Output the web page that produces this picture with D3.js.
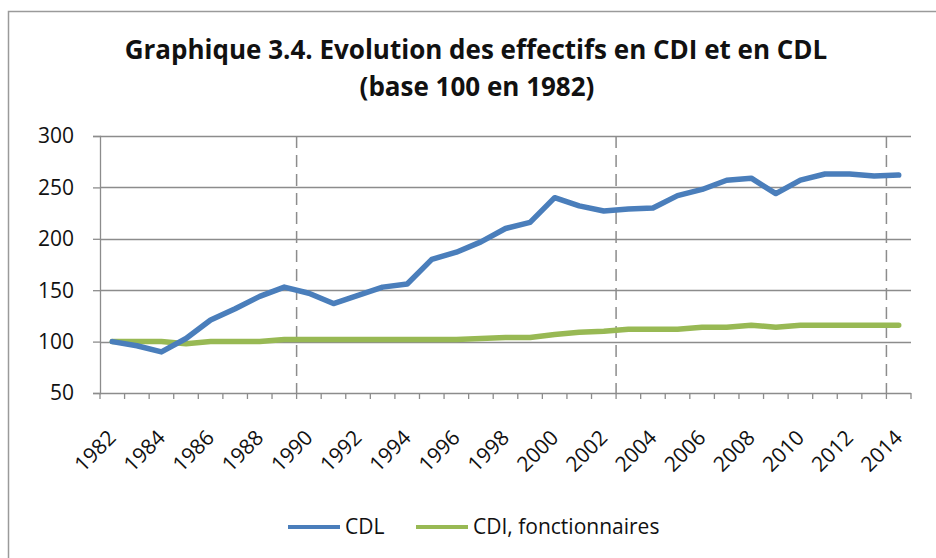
<!DOCTYPE html>
<html lang="fr">
<head>
  <meta charset="UTF-8">
  <title>Graphique 3.4. Evolution des effectifs en CDI et en CDL</title>
  <style>
    body { margin: 0; background: #fff; }
    svg { display: block; font-family: "Open Sans", sans-serif; }
  </style>
</head>
<body>
  <div id="chart"></div>

  <script src="https://d3js.org/d3.v7.min.js"></script>
  <script>
    const SVGWIDTH = 936;
    const SVGHEIGHT = 558;

    // data (base 100 en 1982)
    const years = d3.range(1982, 2015);
    const cdl = [100, 96, 90, 103, 121, 132, 144, 153, 147, 137, 145, 153, 156, 180, 187, 197, 210, 216, 240, 232,
                 227, 229, 230, 242, 248, 257, 259, 244, 257, 263, 263, 261, 262];
    const cdiFonct = [100, 100, 100, 98, 100, 100, 100, 102, 102, 102, 102, 102, 102, 102, 102, 103, 104, 104, 107, 109,
                      110, 112, 112, 112, 114, 114, 116, 114, 116, 116, 116, 116, 116];
    const yTicks = [50, 100, 150, 200, 250, 300];
    const labelYears = d3.range(1982, 2015, 2);
    const dashedYears = [1990, 2003, 2014]; // dashed separators, drawn at the left edge of the year's band
    const seriesNames = ['CDL', 'CDI, fonctionnaires'];
    const seriesColors = ['#4a7ebb', '#98b954'];

    const margin = {top: 136, left: 100};
    const innerWidth = 811;
    const innerHeight = 257;
    const bottom = margin.top + innerHeight;
    const GRID = '#8c8c8c';

    // scales work in page coordinates
    const xScale = d3.scaleBand()
      .domain(years)
      .range([margin.left, margin.left + innerWidth]);
    const yScale = d3.scaleLinear()
      .domain([50, 300])
      .range([bottom, margin.top]);
    const xMid = d => xScale(d) + xScale.bandwidth() / 2;

    const svg = d3.select('#chart')
      .append('svg')
      .attr('width', SVGWIDTH)
      .attr('height', SVGHEIGHT);

    // outer frame, only its top and left edges fall inside the picture
    svg.append('path')
      .attr('d', `M8.5,${SVGHEIGHT}V11.5H${SVGWIDTH}`)
      .attr('fill', 'none')
      .attr('stroke', '#9a9a9a')
      .attr('stroke-width', 1.5);

    // title
    const title = svg.append('text')
      .attr('text-anchor', 'middle')
      .attr('font-weight', 'bold')
      .attr('font-size', '26px')
      .attr('fill', '#111');
    title.append('tspan').attr('x', 476).attr('y', 59).text('Graphique 3.4. Evolution des effectifs en CDI et en CDL');
    title.append('tspan').attr('x', 477).attr('y', 96).text('(base 100 en 1982)');

    // horizontal gridlines
    svg.append('g')
      .selectAll('line')
      .data(yTicks.slice(1))
      .join('line')
      .attr('x1', margin.left).attr('x2', margin.left + innerWidth)
      .attr('y1', d => Math.round(yScale(d)) + 0.5)
      .attr('y2', d => Math.round(yScale(d)) + 0.5)
      .attr('stroke', GRID)
      .attr('stroke-width', 1.3);

    // dashed separators
    svg.append('g')
      .selectAll('line')
      .data(dashedYears)
      .join('line')
      .attr('x1', d => xScale(d)).attr('x2', d => xScale(d))
      .attr('y1', margin.top).attr('y2', bottom)
      .attr('stroke', GRID)
      .attr('stroke-width', 1.5)
      .attr('stroke-dasharray', '12,7');

    // y axis: line and ticks from d3.axisLeft, labels right-aligned next to it
    const yAxisG = svg.append('g')
      .attr('transform', `translate(${margin.left},0)`)
      .call(d3.axisLeft(yScale).tickValues(yTicks).tickSize(7).tickFormat(''));
    yAxisG.select('.domain').attr('stroke', GRID).attr('stroke-width', 1.3);
    yAxisG.selectAll('.tick line').attr('stroke', GRID).attr('stroke-width', 1.3);
    svg.append('g')
      .selectAll('text')
      .data(yTicks)
      .join('text')
      .attr('x', margin.left - 26)
      .attr('y', d => yScale(d))
      .attr('dy', '0.35em')
      .attr('text-anchor', 'end')
      .attr('font-size', '21px')
      .attr('fill', '#111')
      .text(d => d);

    // x axis, ticks between categories
    svg.append('line')
      .attr('x1', margin.left).attr('x2', margin.left + innerWidth)
      .attr('y1', bottom + 0.5).attr('y2', bottom + 0.5)
      .attr('stroke', GRID)
      .attr('stroke-width', 1.3);
    svg.append('g')
      .selectAll('line')
      .data(years.concat([null]))
      .join('line')
      .attr('x1', (d, i) => margin.left + i * xScale.bandwidth())
      .attr('x2', (d, i) => margin.left + i * xScale.bandwidth())
      .attr('y1', bottom).attr('y2', bottom + 6)
      .attr('stroke', GRID)
      .attr('stroke-width', 1.3);
    // rotated year labels, their end sits under the category centre
    svg.append('g')
      .selectAll('text')
      .data(labelYears)
      .join('text')
      .attr('x', d => xMid(d) + 5)
      .attr('y', bottom + 46)
      .attr('text-anchor', 'end')
      .attr('font-size', '21px')
      .attr('fill', '#111')
      .attr('transform', d => `rotate(-45,${xMid(d) + 5},${bottom + 46})`)
      .text(d => d);

    // lines
    const series = [cdl, cdiFonct];
    const line = d3.line()
      .x((d, i) => xMid(years[i]))
      .y(d => yScale(d));
    svg.append('g')
      .selectAll('path')
      .data([cdiFonct, cdl])
      .join('path')
      .attr('d', d => line(d))
      .attr('fill', 'none')
      .attr('stroke', d => seriesColors[series.indexOf(d)])
      .attr('stroke-width', 5.5)
      .attr('stroke-linejoin', 'round')
      .attr('stroke-linecap', 'round');

    // legend
    const legendX = [288, 416];
    const legend = svg.append('g')
      .selectAll('g')
      .data(seriesNames)
      .join('g')
      .attr('transform', (d, i) => `translate(${legendX[i]},527)`);
    legend.append('line')
      .attr('x1', 0).attr('x2', 52)
      .attr('stroke', (d, i) => seriesColors[i])
      .attr('stroke-width', 4);
    legend.append('text')
      .attr('x', 57).attr('y', 7)
      .attr('font-size', '21px')
      .attr('fill', '#111')
      .text(d => d);
  </script>
</body>
</html>
